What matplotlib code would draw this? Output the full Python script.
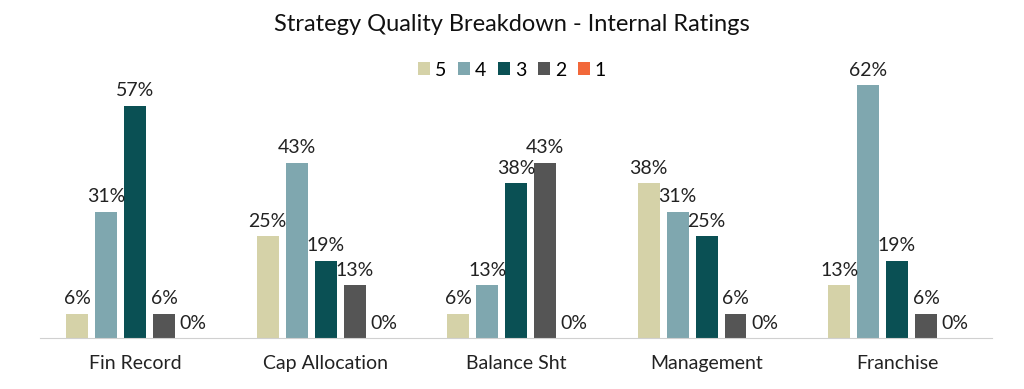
import matplotlib.pyplot as plt
import numpy as np

plt.rcParams['font.family'] = ['Lato', 'DejaVu Sans']

categories = ['Fin Record', 'Cap Allocation', 'Balance Sht', 'Management', 'Franchise']
series = ['5', '4', '3', '2', '1']
r5 = [6, 25, 6, 38, 13]
r4 = [31, 43, 13, 31, 62]
r3 = [57, 19, 38, 25, 19]
r2 = [6, 13, 43, 6, 6]
r1 = [0, 0, 0, 0, 0]
colors = ['#D5D2A8', '#7FA7AF', '#0A5054', '#555555', '#F2683A']

fig = plt.figure(figsize=(10.24, 3.89), dpi=100)
ax = fig.add_axes([0.039, 0.131, 0.93, 0.733])

x = np.arange(len(categories))
w = 0.115
step = 0.152
for i, (vals, c, lab) in enumerate(zip([r5, r4, r3, r2, r1], colors, series)):
    pos = x + (i - 2) * step
    ax.bar(pos, vals, width=w, color=c, label=lab)
    for p, v in zip(pos, vals):
        ax.text(p, v + 1.6, f'{v}%', ha='center', va='bottom', fontsize=14, color='#222222')

ax.set_xlim(-0.5, len(categories) - 0.5)
ax.set_ylim(0, 70)
ax.set_yticks([])
ax.set_xticks(x)
ax.set_xticklabels(categories, fontsize=14, color='#222222')
ax.tick_params(axis='x', length=0, pad=12)
for s in ['top', 'right', 'left']:
    ax.spines[s].set_visible(False)
ax.spines['bottom'].set_color('#D0D0D0')

fig.suptitle('Strategy Quality Breakdown - Internal Ratings', fontsize=17, y=0.965, color='#111111')
fig.legend(loc='center', bbox_to_anchor=(0.5, 0.82), ncol=5, frameon=False, fontsize=14,
           handlelength=0.62, handleheight=0.62, handletextpad=0.25, columnspacing=0.6)

fig.savefig('out.png', dpi=100)
